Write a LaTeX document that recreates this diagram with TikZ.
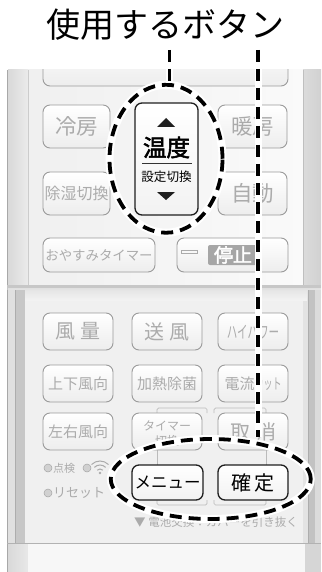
\documentclass[tikz,border=0pt]{standalone}
\usepackage{fontspec}
\setmainfont{Noto Sans CJK JP}
\newfontfamily\jp{Noto Sans CJK JP}
\newfontfamily\jpb[FakeBold=2.2]{Noto Sans CJK JP}
\usetikzlibrary{shapes.geometric}
\newcommand\jfs[1]{\fontsize{#1}{#1}\selectfont}
\definecolor{btntext}{HTML}{ABABAB}
\definecolor{btnline}{HTML}{9A9A9A}
\definecolor{frameA}{HTML}{D6D6D6}
\definecolor{edgec}{HTML}{A8A8A8}
\definecolor{brk}{HTML}{BBBBBB}
\tikzset{
  btn/.style={draw=btnline, line width=0.9pt, rounded corners=7pt, top color=white, bottom color=black!7,
    text=btntext, inner sep=0pt, font=\jp},
  actbtn/.style={btn, draw=black!88, line width=1.3pt, text=black, bottom color=black!5},
  halo/.style={draw=black, line width=3.8pt, dash pattern=on 12pt off 7pt,
    preaction={draw=white, line width=8pt, solid}},
  ring/.style={ellipse, inner sep=0pt, halo},
  tiny/.style={text=btntext, inner sep=0pt, font=\jp},
  ledc/.style={circle, fill=black!18, draw=black!35, line width=0.5pt, minimum size=8pt, inner sep=0pt},
}
\begin{document}
\begin{tikzpicture}[x=1pt,y=-1pt]
\useasboundingbox[fill=white] (0,0) rectangle (321,572);

% ---------- upper section ----------
\fill[frameA] (7,70) rectangle (321,290);
\shade[left color=black!15, right color=black!8] (8,70) rectangle (28,287);
\shade[left color=black!6, right color=black!2] (28,70) rectangle (303,285);
\shade[left color=black!14, right color=black!18] (303,70) rectangle (321,287);
\draw[edgec, line width=0.8pt] (7,70) -- (7,572);
\draw[black!25, line width=0.5pt] (303,70) -- (303,285);
\draw[black!20, line width=0.5pt] (28,70) -- (28,285);

% partial top button
\begin{scope}
  \clip (28,70) rectangle (303,285);
  \node[btn, minimum width=245pt, minimum height=50pt] (topbtn) at (165.5,61) {};
\end{scope}

\node[btn, minimum width=67pt, minimum height=43pt] (reibo) at (76.5,126.5) {\jfs{21.5}冷房};
\node[btn, minimum width=69pt, minimum height=43pt] (danbo) at (252.5,126.5) {\jfs{21.5}暖房};
\node[btn, minimum width=67pt, minimum height=43pt] (joshitsu) at (76.5,193.5) {\jfs{16}除湿切換};
\node[btn, minimum width=69pt, minimum height=43pt] (jido) at (252.5,193.5) {\jfs{21.5}自動};

\node[actbtn, minimum width=63pt, minimum height=112pt] (ondo) at (166.5,159) {};
\fill[black!88] (157,127) -- (175,127) -- (166,118) -- cycle;
\fill[black!88] (157,192) -- (175,192) -- (166,200) -- cycle;
\node[inner sep=0pt, font=\jpb] (ondotxt) at (166.5,147.5) {\jfs{23.5}温度};
\draw[black!80, line width=0.7pt] (142,163.3) -- (192,163.3);
\node[inner sep=0pt, font=\jp] (settei) at (166.5,177) {\jfs{12.6}設定切換};

\node[btn, minimum width=112pt, minimum height=34pt] (oyasumi) at (99,255) {\jfs{13.4}おやすみタイマー};
\node[btn, minimum width=111pt, minimum height=34pt] (teishi) at (232.5,255) {};
\draw[btntext, line width=0.7pt] (181,250.5) rectangle (197,253.5);
\node[fill=black!35, rounded corners=2pt, minimum width=50pt, minimum height=20pt, inner sep=0pt,
      text=white, font=\jpb] (teishitxt) at (233,255) {\jfs{19}停止};

% ---------- separator ----------
\fill[black!22] (7,285) rectangle (321,290);
\shade[top color=black!12, bottom color=black!5] (8,288) rectangle (321,297);

% ---------- lower section ----------
\fill[black!12] (8,290) rectangle (15,543);
\fill[black!22] (15,290) rectangle (25,543);
\draw[black!32, line width=0.6pt] (15,290) -- (15,543) (25,297) -- (25,543);
\fill[black!6] (25,297) rectangle (307,543);
\fill[black!11] (303,290) rectangle (308,543);
\fill[black!24] (308,290) rectangle (315,543);
\fill[black!14] (315,290) rectangle (321,543);
\draw[black!32, line width=0.6pt] (308,290) -- (308,543);
\shade[top color=black!10, bottom color=black!5] (25,290) rectangle (307,300);
\draw[black!30, line width=0.8pt] (7,543) -- (321,543);

% ---------- bottom section ----------
\shade[left color=black!15, right color=black!9] (8,544) rectangle (28,572);
\fill[black!3] (28,544) rectangle (305,572);
\fill[black!16] (305,544) rectangle (321,572);

% brackets
\draw[brk, line width=0.7pt, rounded corners=1.5pt] (157,413) -- (157,408) -- (207,408) -- (207,413);
\draw[brk, line width=0.7pt, rounded corners=1.5pt] (214,413) -- (214,408) -- (266,408) -- (266,413);
\draw[brk, line width=0.7pt, rounded corners=1.5pt] (157,500) -- (157,505) -- (207,505) -- (207,500);
\draw[brk, line width=0.7pt, rounded corners=1.5pt] (214,500) -- (214,505) -- (266,505) -- (266,500);
\draw[brk, line width=0.7pt] (157,450) -- (157,465) (266,450) -- (266,465);

% lower buttons
\node[btn, minimum width=70pt, minimum height=37pt] (furyo) at (78,331.5) {\jfs{20}風\hspace{5pt}量};
\node[btn, minimum width=70pt, minimum height=37pt] (sofu) at (167,331.5) {\jfs{20}送\hspace{5pt}風};
\node[btn, minimum width=70pt, minimum height=37pt] (hipower) at (253,331.5) {\scalebox{0.62}[1]{\jfs{17}ハイパワー}};
\node[btn, minimum width=70pt, minimum height=37pt] (joge) at (78,383.5) {\jfs{15}上下風向};
\node[btn, minimum width=70pt, minimum height=37pt] (kanetsu) at (167,383.5) {\jfs{15}加熱除菌};
\node[btn, minimum width=70pt, minimum height=37pt] (denryu) at (253,383.5) {\jfs{15}電流\scalebox{0.6}[1]{カット}};
\node[btn, minimum width=70pt, minimum height=37pt] (sayu) at (78,431.5) {\jfs{15}左右風向};
\node[btn, minimum width=70pt, minimum height=37pt] (timer) at (167,431.5) {};
\node[tiny] (timer1) at (167,425.5) {\jfs{12}タイマー};
\node[tiny] (timer2) at (167,441) {\jfs{12}切換};
\node[btn, minimum width=70pt, minimum height=37pt] (torikeshi) at (253,431.5) {\jfs{20}取\hspace{6pt}消};

\node[actbtn, minimum width=71pt, minimum height=35pt] (menu) at (167.5,482.5) {\jfs{16.5}メニュー};
\node[actbtn, minimum width=70pt, minimum height=35pt] (kakutei) at (253,482.5) {\jfs{20}確\hspace{3pt}定};

% indicators
\node[ledc] (led1) at (48,468) {};
\node[tiny, anchor=west] (tenken) at (53,468) {\jfs{11}点検};
\node[ledc] (led2) at (87,468) {};
\coordinate (wifi) at (100,473);
\draw[btntext, line width=1pt] ([shift={(45:4pt)}]wifi) arc[start angle=45, end angle=135, radius=4pt];
\draw[btntext, line width=1pt] ([shift={(45:8pt)}]wifi) arc[start angle=45, end angle=135, radius=8pt];
\draw[btntext, line width=1pt] ([shift={(45:12pt)}]wifi) arc[start angle=45, end angle=135, radius=12pt];
\fill[btntext] (wifi) circle (1.3pt);
\node[ledc] (led3) at (48,493) {};
\node[tiny, anchor=west] (reset) at (53,493) {\jfs{13}リセット};
\node[tiny, anchor=west] (battery) at (134,522) {\jfs{11.5}▼ 電池交換：カバーを引き抜く};

% ---------- title ----------
\node[inner sep=0pt, font=\jp] (title) at (165,25) {\jfs{34}使用するボタン};

% ---------- highlight rings and leaders ----------
\node[ring, minimum width=113pt, minimum height=148pt] (ring1) at (166,158.75) {};
\node[ring, minimum width=200pt, minimum height=80pt] (ring2) at (210.75,479) {};
\coordinate (lead1) at (169.5,50);
\coordinate (lead2) at (258,50);
\draw[black, line width=3.8pt, dash pattern=on 12pt off 7pt,
      preaction={draw=white, line width=7pt, solid}] (lead1) -- (lead1 |- ring1.north);
\draw[black, line width=3.8pt, dash pattern=on 12pt off 7pt,
      preaction={draw=white, line width=7pt, solid}] (lead2) -- (lead2 |- ring2.north);
\end{tikzpicture}
\end{document}
